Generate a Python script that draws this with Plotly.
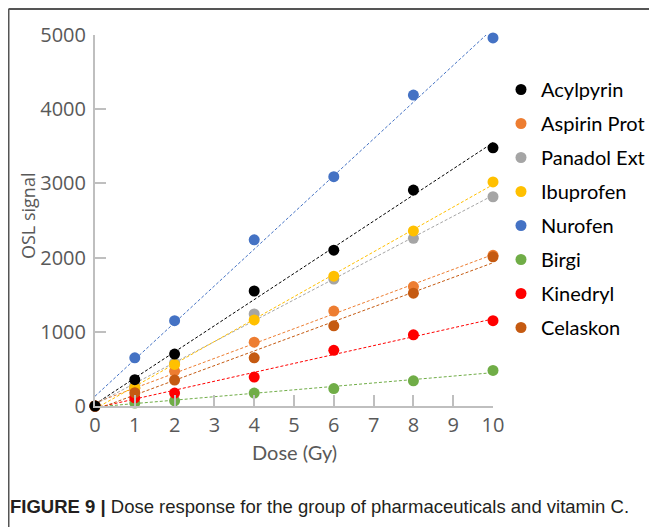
import numpy as np
import plotly.graph_objects as go

# ── Data ────────────────────────────────────────────────────────────────────
DOSE = [0, 1, 2, 4, 6, 8, 10]

SERIES_NAMES = ["Acylpyrin", "Aspirin Prot", "Panadol Ext", "Ibuprofen",
                "Nurofen", "Birgi", "Kinedryl", "Celaskon"]

ACYLPYRIN    = [0, 355, 700, 1550, 2100, 2910, 3480]
ASPIRIN_PROT = [0, 240, 470, 860, 1280, 1610, 2030]
PANADOL_EXT  = [0, 280, 580, 1240, 1710, 2260, 2820]
IBUPROFEN    = [0, 250, 560, 1160, 1750, 2360, 3020]
NUROFEN      = [0, 650, 1150, 2240, 3090, 4190, 4960]
BIRGI        = [0, 40, 70, 175, 235, 340, 480]
KINEDRYL     = [0, 110, 175, 390, 750, 960, 1150]
CELASKON     = [0, 180, 350, 650, 1080, 1520, 2010]

SERIES_VALUES = [ACYLPYRIN, ASPIRIN_PROT, PANADOL_EXT, IBUPROFEN,
                 NUROFEN, BIRGI, KINEDRYL, CELASKON]

COLORS = ["#000000", "#ED7D31", "#A5A5A5", "#FFC000",
          "#4472C4", "#70AD47", "#FF0000", "#C55A11"]

Y_TICKS = [0, 1000, 2000, 3000, 4000, 5000]
X_TICKS = list(range(0, 11))

# ── Geometry: page body has an 8px margin, so work in page pixels ───────────
OFF = 8
W, H = 657, 527
L, R, T, B = 95 - OFF, 493 - OFF, 35 - OFF, 406 - OFF


def px_x(p):
    """page pixel -> paper x"""
    return (p - OFF - L) / (R - L)


def px_y(p):
    """page pixel -> paper y"""
    return (B - (p - OFF)) / (B - T)


AXIS_GREY = "#BFBFBF"
TEXT_GREY = "#595959"

fig = go.Figure()

# trendlines (least-squares linear fits, like Excel)
x_line = np.array([0, 10])
for name, vals, col in zip(SERIES_NAMES, SERIES_VALUES, COLORS):
    slope, icpt = np.polyfit(DOSE, vals, 1)
    fig.add_trace(go.Scatter(
        x=x_line, y=slope * x_line + icpt, mode="lines",
        line=dict(color=col, width=1, dash="3px,2px"),
        legendgroup=name, showlegend=False, hoverinfo="skip",
    ))

# markers — Acylpyrin drawn last so its point sits on top at the origin
order = list(range(1, len(SERIES_NAMES))) + [0]
for i in order:
    fig.add_trace(go.Scatter(
        x=DOSE, y=SERIES_VALUES[i], mode="markers", name=SERIES_NAMES[i],
        marker=dict(color=COLORS[i], size=11),
        legendgroup=SERIES_NAMES[i], legendrank=i + 1, cliponaxis=False,
    ))

annotations = [
    dict(text="OSL signal", x=px_x(28), y=px_y(216), xref="paper", yref="paper",
         textangle=-90, showarrow=False, xanchor="center", yanchor="middle",
         font=dict(family="Open Sans", size=18, color=TEXT_GREY)),
    dict(text="Dose (Gy)", x=px_x(294), y=px_y(452), xref="paper", yref="paper",
         showarrow=False, xanchor="center", yanchor="middle",
         font=dict(family="Lato", size=20, color=TEXT_GREY)),
    dict(text="<b>FIGURE 9 |</b> Dose response for the group of pharmaceuticals and vitamin C.",
         x=px_x(8), y=px_y(506), xref="paper", yref="paper",
         xanchor="left", yanchor="middle", showarrow=False,
         font=dict(family="Liberation Sans Narrow, Liberation Sans", size=18.5,
                   color="#231F20")),
]

shapes = [
    dict(type="line", xref="paper", yref="paper",
         x0=px_x(8.5), x1=px_x(8.5), y0=px_y(9), y1=px_y(540),
         line=dict(color="#555555", width=2)),
    dict(type="line", xref="paper", yref="paper",
         x0=px_x(8.5), x1=px_x(670), y0=px_y(9), y1=px_y(9),
         line=dict(color="#555555", width=2)),
]

tick_font = dict(family="Open Sans", size=20, color=TEXT_GREY)

fig.update_layout(
    width=W, height=H,
    margin=dict(l=L, r=W - R, t=T, b=H - B, pad=0),
    plot_bgcolor="white", paper_bgcolor="white",
    xaxis=dict(range=[0, 10], tickvals=X_TICKS, ticks="inside", ticklen=11,
               tickwidth=2, tickcolor=AXIS_GREY, showline=True, linecolor=AXIS_GREY,
               linewidth=2, showgrid=False, zeroline=False, tickfont=tick_font),
    yaxis=dict(range=[0, 5000], tickvals=Y_TICKS, ticks="inside", ticklen=11,
               tickwidth=2, tickcolor=AXIS_GREY, showline=True, linecolor=AXIS_GREY,
               linewidth=2, showgrid=False, zeroline=False, tickfont=tick_font,
               ticklabelstandoff=3),
    legend=dict(x=px_x(501), y=px_y(70), xanchor="left", yanchor="top",
                font=dict(family="Lato", size=20, color="#000000"),
                tracegroupgap=5, traceorder="grouped", bgcolor="rgba(0,0,0,0)"),
    annotations=annotations,
    shapes=shapes,
)

fig.write_html("out.html")
